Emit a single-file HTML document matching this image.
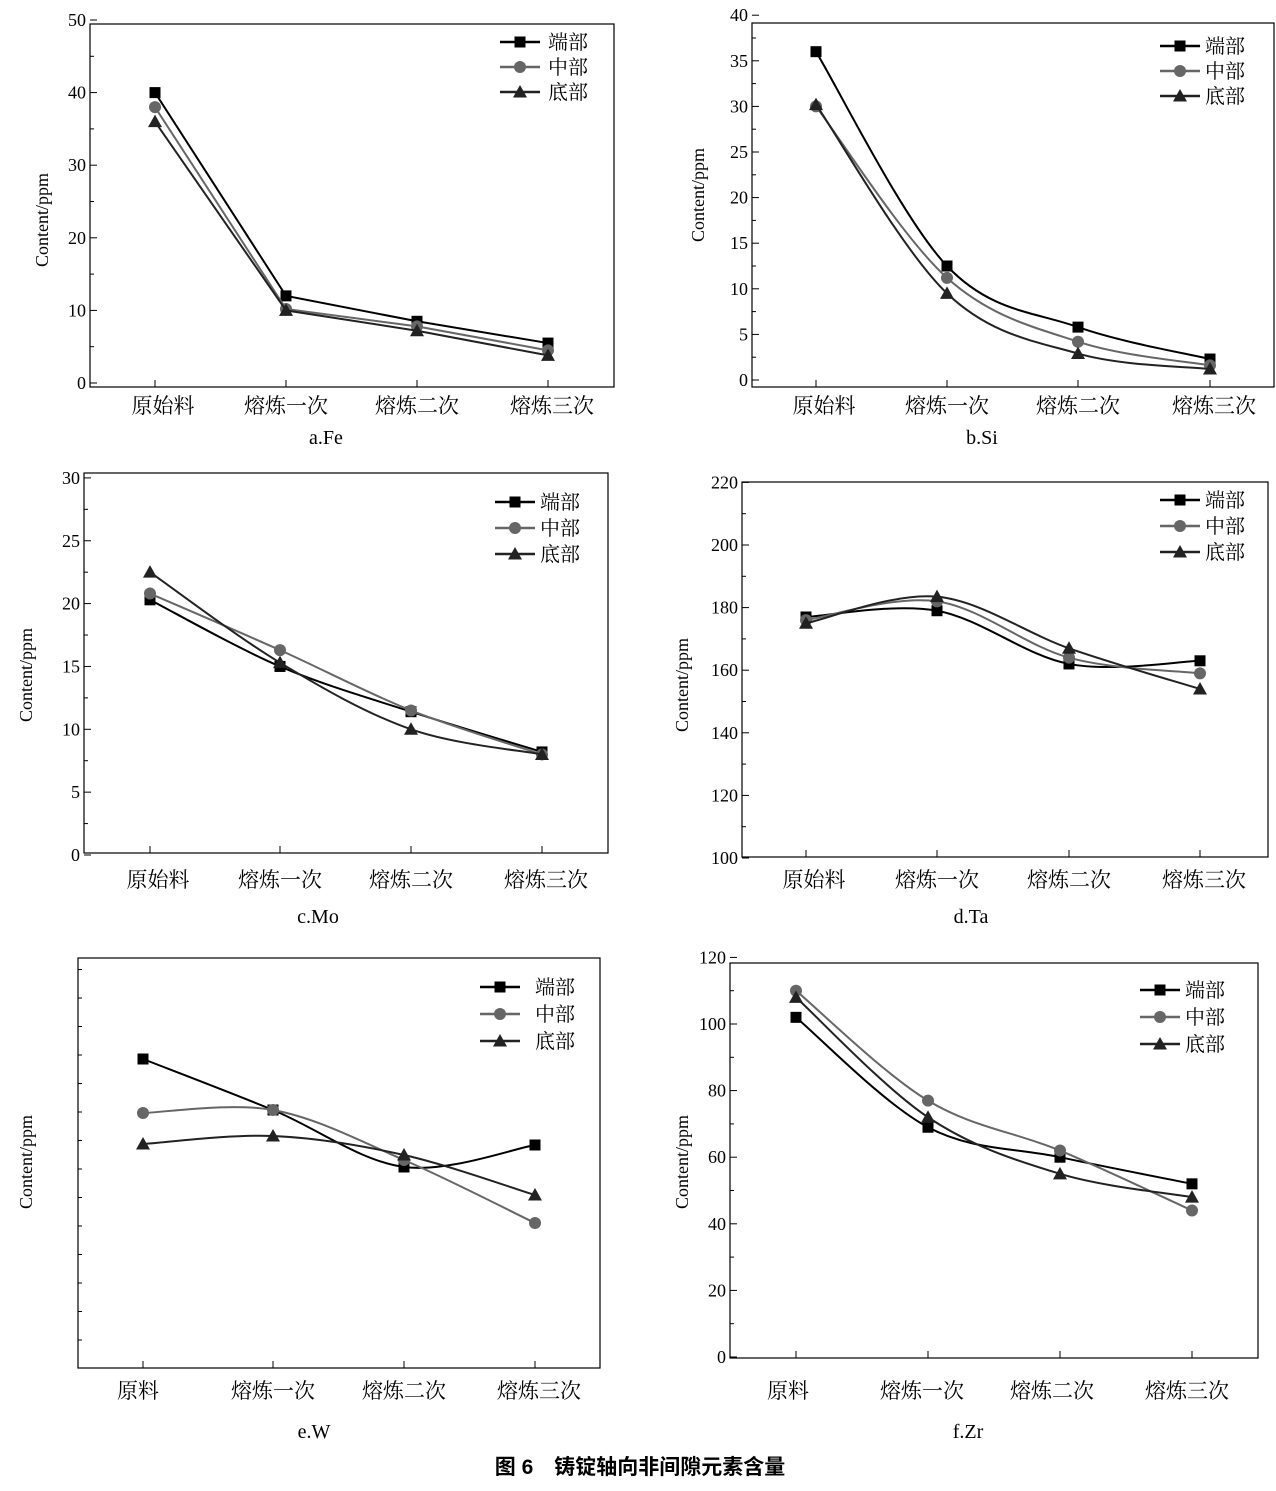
<!DOCTYPE html>
<html><head><meta charset="utf-8">
<style>
html,body{margin:0;padding:0;background:#fff;}
svg{display:block;font-family:"Liberation Serif","Noto Serif CJK SC",serif;}
</style></head>
<body>
<svg id="s" width="1276" height="1491" viewBox="0 0 1276 1491" xmlns="http://www.w3.org/2000/svg"></svg>
<script>
const S=document.getElementById('s');let h='';
const cols={d:'#000',m:'#666',b:'#222'};
function mk(t,x,y){
  if(t==='d')return `<rect x="${x-5.5}" y="${y-5.5}" width="11" height="11" fill="#000"/>`;
  if(t==='m')return `<circle cx="${x}" cy="${y}" r="6" fill="#666"/>`;
  return `<polygon points="${x},${y-7} ${x-7},${y+5.5} ${x+7},${y+5.5}" fill="#222"/>`;
}
function path(pts,smooth){
  let d=`M${pts[0][0]},${pts[0][1]}`;
  if(!smooth){for(let i=1;i<pts.length;i++)d+=` L${pts[i][0]},${pts[i][1]}`;return d;}
  for(let i=0;i<pts.length-1;i++){
    const p0=pts[Math.max(i-1,0)],p1=pts[i],p2=pts[i+1],p3=pts[Math.min(i+2,pts.length-1)];
    const c1=[p1[0]+(p2[0]-p0[0])/6,p1[1]+(p2[1]-p0[1])/6],c2=[p2[0]-(p3[0]-p1[0])/6,p2[1]-(p3[1]-p1[1])/6];
    d+=` C${c1[0]},${c1[1]} ${c2[0]},${c2[1]} ${p2[0]},${p2[1]}`;
  }return d;
}
function panel(o){
  const [L,T,R,B]=o.f;const base=o.base||0;
  const Y=v=>o.y0-o.k*(v-base);
  h+=`<rect x="${L}" y="${T}" width="${R-L}" height="${B-T}" fill="none" stroke="#000" stroke-width="1.2"/>`;
  if(o.yt){o.yt.forEach(v=>{const y=Y(v);h+=`<line x1="${L}" y1="${y}" x2="${L+7}" y2="${y}" stroke="#000"/>`;
    h+=`<text x="${L-4}" y="${y+6}" font-size="18" text-anchor="end">${v}</text>`;});
    for(let i=0;i<o.yt.length-1;i++){const y=Y((o.yt[i]+o.yt[i+1])/2);h+=`<line x1="${L}" y1="${y}" x2="${L+4}" y2="${y}" stroke="#000"/>`;}
  } else {for(let y=B-28;y>T;y-=28.5)h+=`<line x1="${L}" y1="${y}" x2="${L+4}" y2="${y}" stroke="#000"/>`;}
  o.xs.forEach((x,i)=>{h+=`<line x1="${x}" y1="${B}" x2="${x}" y2="${B-7}" stroke="#000"/>`;
    h+=`<text x="${x+(o.xo?o.xo[i]:0)}" y="${B+o.lo}" font-size="21" text-anchor="middle">${o.xl[i]}</text>`;});
  h+=`<text transform="translate(${o.yl[0]},${o.yl[1]}) rotate(-90)" font-size="18" text-anchor="middle">Content/ppm</text>`;
  h+=`<text x="${o.cap[0]}" y="${o.cap[1]}" font-size="20" text-anchor="middle">${o.cap[2]}</text>`;
  ['d','m','b'].forEach(t=>{
    const pts=o.data[t].map((v,i)=>[o.xs[i],o.py?v:Y(v)]);
    h+=`<path d="${path(pts,o.sm)}" fill="none" stroke="${cols[t]}" stroke-width="2"/>`;
    pts.forEach(p=>h+=mk(t,p[0],p[1]));
  });
  const lg=o.lg,names={d:'端部',m:'中部',b:'底部'};
  ['d','m','b'].forEach((t,i)=>{const y=lg[1]+i*lg[3];
    h+=`<line x1="${lg[0]}" y1="${y}" x2="${lg[0]+40}" y2="${y}" stroke="${cols[t]}" stroke-width="2.5"/>`+mk(t,lg[0]+20,y);
    h+=`<text x="${lg[2]}" y="${y+7}" font-size="20">${names[t]}</text>`;});
}
const X1=['原始料','熔炼一次','熔炼二次','熔炼三次'],X2=['原料','熔炼一次','熔炼二次','熔炼三次'],XO=[8,0,0,4];
panel({f:[90,24,614,387],lo:26,y0:383,k:7.26,yt:[0,10,20,30,40,50],xs:[155,286,417,548],xl:X1,xo:XO,yl:[48,220],cap:[326,444,'a.Fe'],sm:false,
 data:{d:[40,12,8.5,5.5],m:[38,10.2,7.8,4.5],b:[36,10,7.2,3.8]},lg:[500,42,548,25]});
panel({f:[752,23,1274,387],lo:26,y0:380,k:9.12,yt:[0,5,10,15,20,25,30,35,40],xs:[816,947,1078,1210],xl:X1,xo:XO,yl:[704,195],cap:[982,444,'b.Si'],sm:true,
 data:{d:[36,12.5,5.8,2.3],m:[30,11.2,4.2,1.6],b:[30.2,9.5,2.9,1.2]},lg:[1160,46,1205,25]});
panel({f:[84,473,608,853],lo:34,y0:855,k:12.57,yt:[0,5,10,15,20,25,30],xs:[150,280,411,542],xl:X1,xo:XO,yl:[32,675],cap:[318,923,'c.Mo'],sm:true,
 data:{d:[20.3,15,11.4,8.2],m:[20.8,16.3,11.5,8],b:[22.5,15.3,10,8]},lg:[495,502,540,26]});
panel({f:[742,482,1268,857],lo:30,y0:858,k:3.13,base:100,yt:[100,120,140,160,180,200,220],xs:[806,937,1069,1200],xl:X1,xo:XO,yl:[688,685],cap:[971,923,'d.Ta'],sm:true,
 data:{d:[177,179,162,163],m:[176,182,164,159],b:[175,183.5,167,154]},lg:[1160,500,1205,26]});
panel({f:[78,958,600,1368],lo:30,xs:[143,273,404,535],xl:X2,xo:[-5,0,0,4],yl:[32,1162],cap:[314,1438,'e.W'],sm:true,py:true,
 data:{d:[1059,1110,1167,1145],m:[1113,1110,1160,1223],b:[1144,1136,1155,1195]},lg:[480,987,535,27]});
panel({f:[730,963,1258,1358],lo:40,y0:1357,k:3.33,yt:[0,20,40,60,80,100,120],xs:[796,928,1060,1192],xl:X2,xo:[-8,-6,-8,-5],yl:[688,1162],cap:[968,1438,'f.Zr'],sm:true,
 data:{d:[102,69,60,52],m:[110,77,62,44],b:[108,72,55,48]},lg:[1140,990,1185,27]});
h+=`<text x="640" y="1474" font-size="21" font-weight="bold" text-anchor="middle" font-family="'Liberation Sans','Noto Sans CJK SC',sans-serif">图 6　铸锭轴向非间隙元素含量</text>`;
S.innerHTML=h;
</script>
</body></html>
